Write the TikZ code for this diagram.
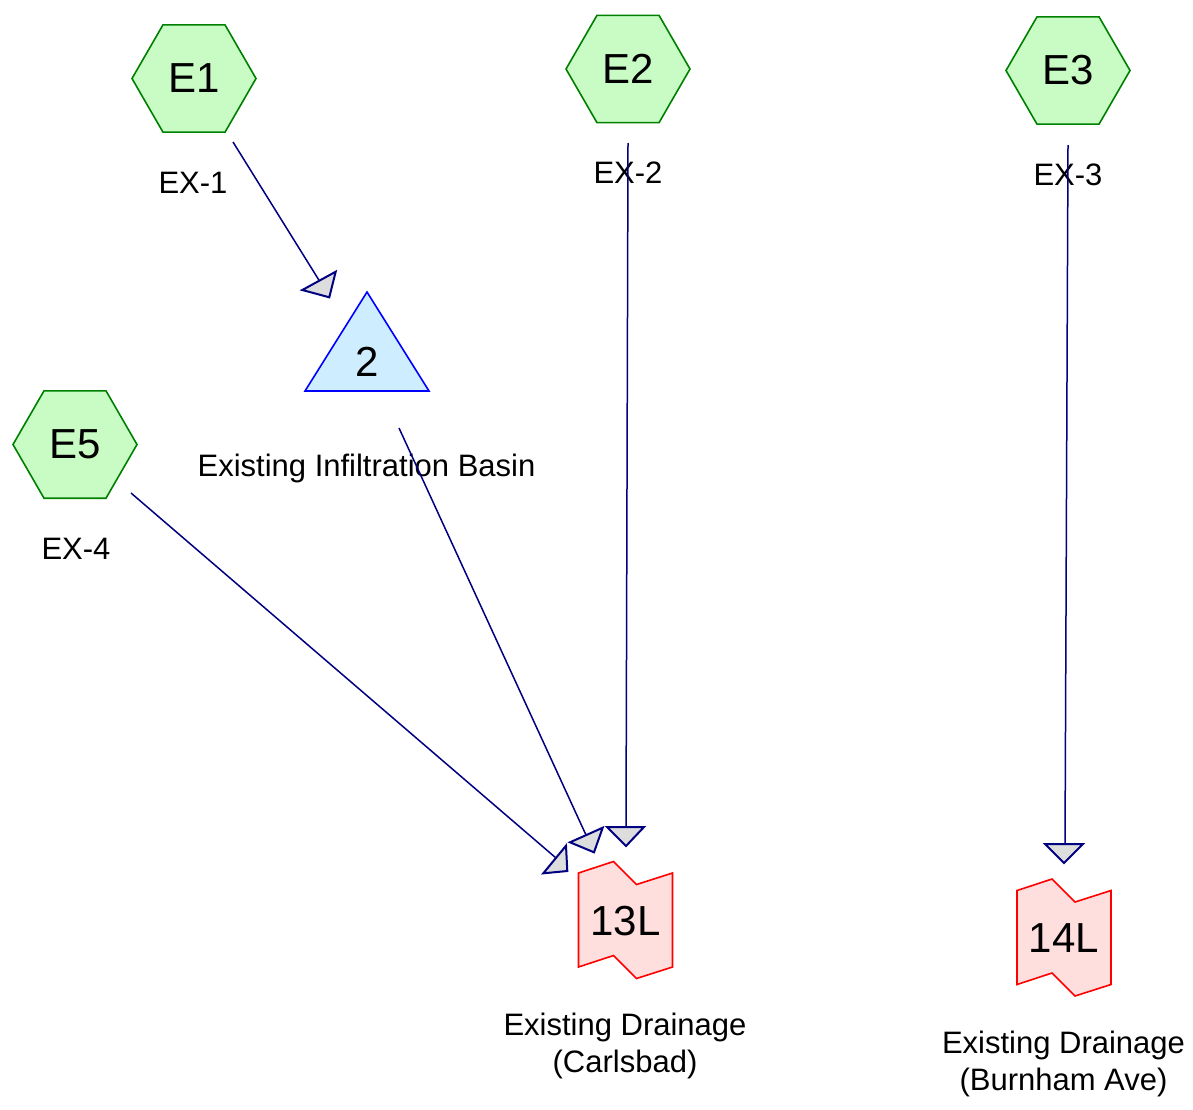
\documentclass[tikz,border=0pt]{standalone}
\usepackage{fontspec}
\setmainfont{Liberation Sans}
\usetikzlibrary{shapes.geometric,backgrounds}

\definecolor{hexfill}{RGB}{200,252,196}
\definecolor{hexedge}{RGB}{0,128,0}
\definecolor{pondfill}{RGB}{206,238,255}
\definecolor{pondedge}{RGB}{0,0,255}
\definecolor{linkfill}{RGB}{255,222,222}
\definecolor{linkedge}{RGB}{255,0,0}
\definecolor{flowline}{RGB}{0,0,128}
\definecolor{headfill}{RGB}{221,221,221}

\tikzset{
  subcat/.style={regular polygon, regular polygon sides=6, minimum size=124pt,
    inner sep=0pt, draw=hexedge, fill=hexfill, line width=1.6pt,
    font=\fontsize{42}{42}\selectfont},
  idtext/.style={inner sep=0pt, font=\fontsize{42}{42}\selectfont},
  caption/.style={inner sep=0pt, font=\fontsize{31}{36.5}\selectfont, align=center},
  pondshape/.style={draw=pondedge, fill=pondfill, line width=1.6pt, line join=miter},
  linkshape/.style={draw=linkedge, fill=linkfill, line width=1.6pt, line join=miter},
  flow/.style={draw=flowline, line width=1.5pt},
  flowhead/.style={draw=flowline, fill=headfill, line width=2pt, line join=miter},
}

\begin{document}
\begin{tikzpicture}[x=1pt, y=-1pt]
\useasboundingbox (0,0) rectangle (1193,1109);

% subcatchments
\node[subcat] (E1) at (194,78.5) {E1};
\node[subcat] (E2) at (628,69) {E2};
\node[subcat] (E3) at (1068,70.5) {E3};
\node[subcat] (E5) at (75,444.5) {E5};

% pond and links (text first, outlines behind)
\node[idtext] (P2) at (367,362) {2};
\node[idtext] (L13) at (625.5,921) {13L};
\node[idtext] (L14) at (1064,938.5) {14L};

\begin{scope}[on background layer]
  \fill[white] (0,0) rectangle (1193,1109);
  \begin{scope}[shift={(367,0)}]
    \draw[pondshape] (0,292) -- (62,391) -- (-62,391) -- cycle;
  \end{scope}
  \foreach \cx/\cy in {625.5/920, 1064/937.5}{
    \begin{scope}[shift={(\cx,\cy)}]
      \draw[linkshape] (-47,-47) -- (-12,-58.5) -- (11,-35.5) -- (47,-47)
        -- (47,47) -- (11,58.5) -- (-12,35.5) -- (-47,47) -- cycle;
    \end{scope}
  }
\end{scope}

% captions
\node[caption, anchor=base] (C1) at (193,193.5) {EX-1};
\node[caption, anchor=base] (C2) at (628,183) {EX-2};
\node[caption, anchor=base] (C3) at (1068,185) {EX-3};
\node[caption, anchor=base] (C5) at (76,559.5) {EX-4};
\node[caption, anchor=base] (CP) at (366.5,476) {Existing Infiltration Basin};
\node[caption, anchor=north] (C13) at (625,1013) {Existing Drainage\\(Carlsbad)};
\node[caption, anchor=north] (C14) at (1063.5,1031) {Existing Drainage\\(Burnham Ave)};

% connector end points
\coordinate (E1out) at (233,142);
\coordinate (P2in) at (319.5,281);
\coordinate (E2out) at (628,143);
\coordinate (L13inA) at (626,828);
\coordinate (E3out) at (1068,145);
\coordinate (L14in) at (1065,845);
\coordinate (E5out) at (131,493);
\coordinate (L13inB) at (556,858);
\coordinate (P2out) at (399,428);
\coordinate (L13inC) at (586,835);

% flows
\draw[flow] (E1out) -- (P2in);
\draw[flow] (E2out) -- (L13inA);
\draw[flow] (E3out) -- (L14in);
\draw[flow] (E5out) -- (L13inB);
\draw[flow] (P2out) -- (L13inC);

% arrow heads
\draw[flowhead] (302.3,290) -- (335.7,271.7) -- (329.3,297.3) -- cycle;
\draw[flowhead] (607,827) -- (644,827) -- (626,846) -- cycle;
\draw[flowhead] (1045,844) -- (1083,844) -- (1064,863) -- cycle;
\draw[flowhead] (543.3,873.3) -- (566,845.7) -- (567.3,871) -- cycle;
\draw[flowhead] (570,842.3) -- (602.7,827.7) -- (594,852.3) -- cycle;
\end{tikzpicture}
\end{document}
